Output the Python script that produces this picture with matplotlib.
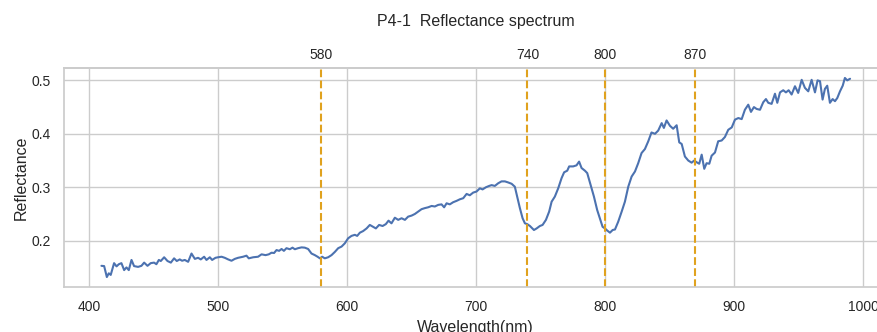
import matplotlib
matplotlib.use("Agg")
import matplotlib.pyplot as plt
import seaborn as sns

wavelength = [
    409.8, 411.9, 414.0, 415.5, 417.0, 419.6, 421.5, 423.3, 425.3, 427.4,
    429.2, 431.0, 433.1, 435.1, 438.2, 440.8, 442.9, 445.5, 448.0, 450.6,
    452.4, 454.3, 455.8, 458.4, 461.0, 463.6, 466.1, 468.2, 470.5, 472.3,
    474.4, 477.0, 479.6, 482.2, 484.7, 486.8, 489.4, 491.2, 493.8, 495.6,
    498.2, 500.2, 502.9, 505.4, 508.0, 510.6, 513.2, 515.7, 519.6, 522.2,
    524.0, 527.4, 531.2, 533.9, 537.0, 539.5, 541.6, 543.6, 545.5, 547.5,
    549.4, 551.2, 553.2, 555.8, 557.9, 559.7, 562.2, 564.9, 567.4, 570.0,
    572.6, 575.2, 577.3, 579.1, 580.9, 582.9, 585.5, 588.1, 590.7, 593.3,
    595.9, 598.4, 601.0, 603.6, 606.2, 608.0, 610.1, 612.6, 615.3, 617.8,
    620.4, 622.5, 625.0, 627.7, 630.2, 632.3, 634.6, 637.2, 639.8, 642.4,
    645.0, 647.5, 650.2, 652.7, 655.3, 657.9, 660.5, 663.0, 665.7, 668.2,
    670.8, 673.4, 675.4, 677.3, 679.8, 682.4, 685.0, 687.6, 690.2, 692.8,
    695.3, 697.9, 700.5, 703.1, 705.2, 707.8, 710.3, 712.2, 714.7, 717.3,
    719.9, 722.5, 725.0, 727.7, 730.2, 732.0, 734.1, 736.2, 738.0, 739.8,
    741.9, 745.0, 747.1, 749.6, 751.7, 754.3, 756.8, 758.7, 761.2, 763.8,
    766.4, 768.4, 770.8, 772.3, 775.4, 778.0, 780.0, 781.9, 784.5, 786.3,
    788.9, 791.5, 794.0, 796.1, 798.2, 800.0, 801.8, 803.9, 806.0, 807.8,
    810.3, 813.0, 815.5, 818.1, 820.7, 823.3, 825.8, 828.4, 831.0, 833.6,
    836.1, 838.8, 841.3, 844.0, 845.7, 847.8, 850.4, 852.9, 855.6, 857.6,
    859.5, 862.0, 864.6, 867.2, 869.2, 871.6, 873.1, 875.0, 877.0, 878.8,
    880.9, 882.7, 885.3, 887.8, 890.5, 893.0, 895.6, 898.3, 900.8, 903.4,
    906.0, 908.5, 911.1, 913.2, 915.5, 917.6, 920.2, 922.7, 924.8, 926.6,
    929.2, 931.8, 933.6, 935.7, 938.2, 940.3, 942.4, 944.7, 947.3, 949.8,
    952.5, 955.0, 957.6, 960.2, 962.8, 964.8, 966.7, 968.7, 970.5, 972.3,
    974.4, 976.5, 978.3, 980.1, 982.2, 984.3, 986.0, 987.8, 990.0,
]
reflectance = [
    0.153, 0.1525, 0.132, 0.139, 0.136, 0.158, 0.152, 0.156, 0.158, 0.145,
    0.150, 0.145, 0.164, 0.1525, 0.151, 0.153, 0.159, 0.153, 0.158, 0.159,
    0.156, 0.164, 0.162, 0.169, 0.162, 0.159, 0.167, 0.162, 0.165, 0.1625,
    0.164, 0.1605, 0.176, 0.166, 0.168, 0.165, 0.170, 0.164, 0.169, 0.164,
    0.168, 0.169, 0.170, 0.168, 0.165, 0.1625, 0.166, 0.168, 0.170, 0.172,
    0.167, 0.169, 0.170, 0.1745, 0.173, 0.1745, 0.1775, 0.177, 0.1825, 0.181,
    0.1845, 0.181, 0.186, 0.184, 0.187, 0.184, 0.186, 0.1875, 0.187, 0.1845,
    0.176, 0.173, 0.170, 0.167, 0.170, 0.167, 0.169, 0.173, 0.179, 0.186,
    0.189, 0.195, 0.2045, 0.209, 0.211, 0.209, 0.215, 0.218, 0.223, 0.2295,
    0.226, 0.223, 0.2295, 0.2275, 0.231, 0.2375, 0.2325, 0.243, 0.239, 0.242,
    0.239, 0.245, 0.247, 0.250, 0.2545, 0.259, 0.261, 0.2625, 0.265, 0.264,
    0.267, 0.268, 0.2625, 0.270, 0.268, 0.272, 0.2745, 0.2775, 0.2795, 0.2875,
    0.285, 0.290, 0.292, 0.298, 0.296, 0.300, 0.3025, 0.304, 0.3025, 0.3075,
    0.311, 0.311, 0.309, 0.3065, 0.301, 0.2825, 0.261, 0.242, 0.2325, 0.231,
    0.2275, 0.220, 0.223, 0.2275, 0.2295, 0.239, 0.2545, 0.273, 0.2825, 0.298,
    0.317, 0.328, 0.331, 0.339, 0.339, 0.341, 0.348, 0.336, 0.331, 0.3265,
    0.3045, 0.2825, 0.2575, 0.242, 0.226, 0.223, 0.219, 0.215, 0.220, 0.221,
    0.2355, 0.2545, 0.273, 0.301, 0.320, 0.3295, 0.345, 0.364, 0.3715, 0.386,
    0.4025, 0.400, 0.406, 0.420, 0.411, 0.425, 0.415, 0.4095, 0.416, 0.384,
    0.381, 0.3575, 0.350, 0.346, 0.350, 0.346, 0.344, 0.361, 0.3345, 0.345,
    0.344, 0.359, 0.365, 0.386, 0.3875, 0.394, 0.4075, 0.412, 0.4265, 0.4295,
    0.4275, 0.445, 0.4545, 0.441, 0.450, 0.4465, 0.445, 0.459, 0.465, 0.458,
    0.456, 0.475, 0.458, 0.4775, 0.4815, 0.4775, 0.4815, 0.4735, 0.489, 0.4765,
    0.501, 0.486, 0.4795, 0.501, 0.4775, 0.500, 0.4985, 0.464, 0.484, 0.490,
    0.458, 0.465, 0.461, 0.467, 0.4795, 0.490, 0.5045, 0.500, 0.503,
]
# Bandas marcadas
bandas = [580, 740, 800, 870]
titulo = "P4-1  Reflectance spectrum"

sns.set_theme(style="whitegrid")
plt.rcParams['font.family'] = ['Liberation Sans', 'DejaVu Sans']

fig = plt.figure(figsize=(8.78, 3.32), dpi=100)
# el eje se sale un poco por la derecha, como en la imagen original
ax = fig.add_axes([64 / 878, 45 / 332, 823.5 / 878, 219 / 332])

ax.plot(wavelength, reflectance, color="#4c72b0", linewidth=1.5)

for b in bandas:
    ax.axvline(b, color="#e0a21e", linestyle="--", linewidth=1.5)

ax.set_xlabel("Wavelength(nm)", fontsize=11.5)
ax.set_ylabel("Reflectance", fontsize=11.5, labelpad=2)
ax.tick_params(labelsize=10)
ax.set_yticks([0.2, 0.3, 0.4, 0.5])

# Eje superior con las bandas
top = ax.secondary_xaxis("top")
top.set_xticks(bandas)
top.set_xticklabels([str(b) for b in bandas])
top.tick_params(length=0, labelsize=10, pad=4)

ax.set_title(titulo, fontsize=11.5, pad=30)

fig.savefig("out.png", dpi=100)
